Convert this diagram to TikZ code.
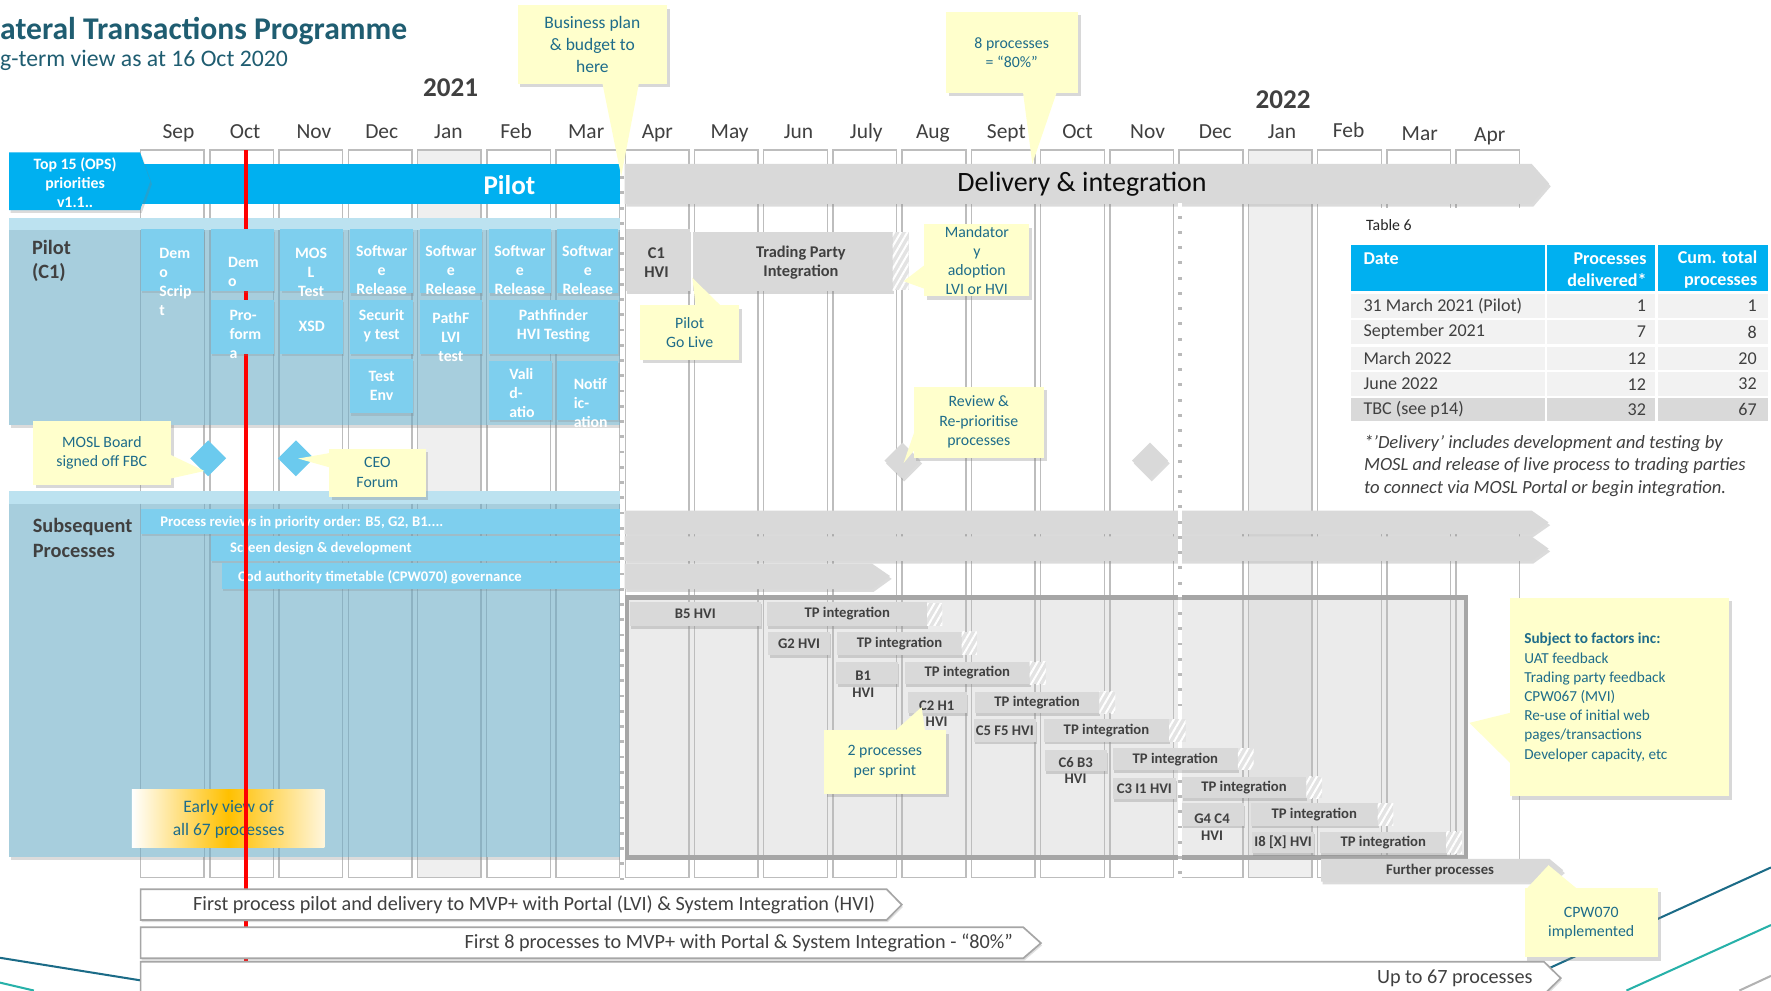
\documentclass[tikz,border=0pt]{standalone}
\usepackage{fontspec}
\setmainfont{Carlito}
\usetikzlibrary{shadows,patterns.meta,calc,shapes.geometric}
\definecolor{bblue}{HTML}{00B0F0}
\definecolor{tblue}{HTML}{7ECFEE}
\definecolor{secblue}{HTML}{A7CEDD}
\definecolor{sectop}{HTML}{BCE2F0}
\definecolor{secline}{HTML}{8DB2C2}
\definecolor{gbar}{HTML}{D9D9D9}
\definecolor{dtext}{HTML}{404040}
\definecolor{calltxt}{HTML}{1E6C8A}
\definecolor{cyel}{HTML}{FFFFCC}
\definecolor{titlec}{HTML}{1F5D71}
\definecolor{colline}{HTML}{BDBDBD}
\definecolor{frameg}{HTML}{A6A6A6}
\definecolor{janfill}{HTML}{EFEFEF}
\definecolor{dteal}{HTML}{1B6B87}
\definecolor{lteal}{HTML}{27B1A9}
\definecolor{rowg}{HTML}{F2F2F2}
\definecolor{rowd}{HTML}{D9D9D9}
\definecolor{eorange}{HTML}{FFC000}
\definecolor{elight}{HTML}{FFF6DC}
\newcommand\fs[2]{\fontsize{#1pt}{#2pt}\selectfont}
\newcommand\rbox[7]{\node[#1, anchor=north west, inner sep=0pt, outer sep=0pt, minimum width={(#5-#3)*1pt}, minimum height={(#6-#4)*1pt}] (#2) at (#3,#4) {#7};}
\newcommand\hatchbox[4]{\fill[gray!22] (#1,#2) rectangle (#3,#4); \fill[pattern={Lines[angle=60,distance=5pt,line width=1.8pt]}, pattern color=white] (#1,#2) rectangle (#3,#4);}
\newcommand\trow[7]{\fill[#4] (1196,#2) rectangle (1367.8,#3); \fill[#4] (1369.6,#2) rectangle (1465.6,#3); \fill[#4] (1467.8,#2) rectangle (1565,#3);
\node[tcell,anchor=west] (#1d) at (1207,{(#2+#3)/2}) {#5};
\node[tcell,anchor=east] (#1p) at (1457.5,{(#2+#3)/2}) {#6};
\node[tcell,anchor=east] (#1c) at (1555.5,{(#2+#3)/2}) {#7};}
\begin{document}
\begin{tikzpicture}[x=1pt,y=-1pt,
 sh/.style={drop shadow={shadow xshift=1.5pt,shadow yshift=-2.5pt,opacity=0.28}},
 wtxt/.style={inner sep=0pt,align=center,text=white,font=\fs{14}{16.8}\bfseries},
 ptxt/.style={inner sep=0pt,align=center,text=dtext,font=\fs{13}{14.5}\bfseries},
 cbox/.style={fill=cyel,inner sep=0pt,align=center,text=calltxt,font=\fs{14}{17},drop shadow={shadow xshift=2.5pt,shadow yshift=-3pt,opacity=0.3}},
 tbx/.style={fill=tblue,drop shadow={shadow xshift=1pt,shadow yshift=-2pt,opacity=0.22}},
 pbx/.style={fill=gbar,text=dtext,font=\fs{13}{14.5}\bfseries,drop shadow={shadow xshift=1pt,shadow yshift=-2.5pt,opacity=0.3}},
 mon/.style={inner sep=0pt,anchor=base,text=dtext,font=\fs{19}{22}},
 tcell/.style={inner sep=0pt,text=dtext,font=\fs{16}{19}},
 arrowbox/.style={fill=white,draw=frameg,line width=1.5,drop shadow={shadow xshift=1pt,shadow yshift=-2pt,opacity=0.25}},
 btxt/.style={inner sep=0pt,text=dtext,font=\fs{17.9}{20}},
]
\useasboundingbox (0,0) rectangle (1568,877);
\fill[white] (0,0) rectangle (1568,877);

% decorative lines
\draw[dteal, line width=1.8] (0,848) -- (124.5,868);
\draw[lteal, line width=1.8] (0,870) -- (30,877);
\draw[dteal, line width=1.8] (1372,857) -- (1568,768);
\draw[lteal, line width=1.8] (1440,877) -- (1568,819);
\draw[gray!60, line width=1.8] (1540,877) -- (1568,864);

% month columns
\foreach \i in {0,...,19}{
 \pgfmathsetmacro\xl{124.5+61.3*\i}
 \pgfmathsetmacro\xr{\xl+56.3}
 \ifnum\i=4 \def\cf{janfill}\else\ifnum\i=16 \def\cf{janfill}\else\def\cf{white}\fi\fi
 \fill[\cf] (\xl,133) rectangle (\xr,777);
}
\fill[gray!16] (553,529) rectangle (1298,759);
\fill[gray!23] (1105.7,529) rectangle (1162,759);
\foreach \i in {0,...,19}{
 \pgfmathsetmacro\xl{124.5+61.3*\i}
 \pgfmathsetmacro\xr{\xl+56.3}
 \draw[colline, line width=1.3] (\xl,133) rectangle (\xr,777);
}
\draw[frameg, line width=4] (555,529) rectangle (1298,759);

% blue sections
\fill[secblue, sh] (8,193) rectangle (549,376);
\fill[sectop] (8,193) rectangle (549,204);
\fill[secblue, sh] (8,435) rectangle (549,758.5);
\fill[sectop] (8,435) rectangle (549,446);
\foreach \i in {0,...,6}{
 \pgfmathsetmacro\xl{124.5+61.3*\i}
 \pgfmathsetmacro\xr{\xl+56.3}
 \draw[secline, line width=1.2] (\xl,204) -- (\xl,376) (\xr,204) -- (\xr,376) (\xl,446) -- (\xl,758.5) (\xr,446) -- (\xr,758.5);
}
\node[inner sep=0pt, anchor=west, align=left, text=dtext, font=\fs{18}{22}\bfseries] (pilotlbl) at (28.2,231) {Pilot\\(C1)};
\node[inner sep=0pt, anchor=west, align=left, text=dtext, font=\fs{18}{22.2}\bfseries] (subslbl) at (28.9,476) {Subsequent\\Processes};

% top bars
\fill[bblue] (124,145) rectangle (551,180.5);
\node[inner sep=0pt, text=white, font=\fs{24}{26}\bfseries] (pilottxt) at (451,164) {Pilot};
\fill[bblue, sh] (8,135) -- (124,135) -- (133,160.5) -- (124,186) -- (8,186) -- cycle;
\node[wtxt, font=\fs{14}{17}\bfseries] (top15) at (66.5,161.5) {Top 15 (OPS)\\priorities\\v1.1..};
\fill[gbar, sh] (553,145) -- (1356,145) -- (1371.5,162.5) -- (1356,180.5) -- (553,180.5) -- cycle;
\node[inner sep=0pt, text=black!95, font=\fs{24.8}{26}] (deliv) at (958,163) {Delivery \& integration};

% table panel
\fill[white] (1196,184.5) rectangle (1568,454.5);
\node[inner sep=0pt, anchor=west, text=black!85, font=\fs{14}{16}] (tab6) at (1209.4,199.2) {Table 6};
\fill[bblue] (1196,217) rectangle (1367.8,257.7);
\fill[bblue] (1369.6,217) rectangle (1465.6,257.7);
\fill[bblue] (1467.8,217) rectangle (1565,257.7);
\node[inner sep=0pt, anchor=west, text=white, font=\fs{16}{20}\bfseries] (hdate) at (1207,228.7) {Date};
\node[inner sep=0pt, anchor=east, align=right, text=white, font=\fs{16}{20}\bfseries] (hproc) at (1458,238.8) {Processes\\delivered*};
\node[inner sep=0pt, anchor=east, align=right, text=white, font=\fs{16}{20}\bfseries] (hcum) at (1556,238.8) {Cum. total\\processes};
\trow{ra}{260.6}{281.3}{rowg}{31 March 2021 (Pilot)}{1}{1}
\trow{rb}{283.3}{304.6}{rowg}{September 2021}{7}{8}
\trow{rc}{307}{327.6}{rowg}{March 2022}{12}{20}
\trow{rd}{329.7}{350.6}{rowg}{June 2022}{12}{32}
\trow{re}{352.7}{372.5}{rowd}{TBC (see p14)}{32}{67}
\node[inner sep=0pt, anchor=west, text=dtext, font=\fs{16.5}{20}\itshape] (fn1) at (1207.5,392.5) {*’Delivery’ includes development and testing by};
\node[inner sep=0pt, anchor=west, text=dtext, font=\fs{16.5}{20}\itshape] (fn2) at (1207.5,412.3) {MOSL and release of live process to trading parties};
\node[inner sep=0pt, anchor=west, text=dtext, font=\fs{16.5}{20}\itshape] (fn3) at (1207.5,432.4) {to connect via MOSL Portal or begin integration.};

% subsequent bars
\fill[gbar, sh] (553,452) -- (1356,452) -- (1371,462.5) -- (1356,473) -- (553,473) -- cycle;
\fill[gbar, sh] (553,475) -- (1356,475) -- (1371,485.7) -- (1356,496.5) -- (553,496.5) -- cycle;
\fill[gbar, sh] (553,499) -- (772,499) -- (788,510) -- (772,521.5) -- (553,521.5) -- cycle;
\rbox{tbx}{bar1}{124.7}{451}{551}{472.8}{}
\rbox{tbx}{bar2}{186.8}{474.6}{551}{496.4}{}
\rbox{tbx}{bar3}{196.2}{498.8}{551}{521.5}{}
\node[inner sep=0pt, anchor=west, text=white, font=\fs{13}{15}\bfseries] (bar1t) at (141.7,462.3) {Process reviews in priority order: B5, G2, B1....};
\node[inner sep=0pt, anchor=west, text=white, font=\fs{13}{15}\bfseries] (bar2t) at (203.5,485.5) {Screen design \& development};
\node[inner sep=0pt, anchor=west, text=white, font=\fs{13}{15}\bfseries] (bar3t) at (210.7,511.5) {Cod authority timetable (CPW070) governance};

% early view box
\shade[left color=white, right color=elight, middle color=eorange] (116.7,699.4) rectangle (287.3,750.2);
\node[inner sep=0pt, align=center, text=calltxt, font=\fs{15.5}{19.7}] (early) at (202.4,725.5) {Early view of\\all 67 processes};

% red line
\draw[red, line width=4] (217.6,133) -- (217.6,851);

% dashed lines
\draw[gray!55, line width=3.5] (550.5,145) -- (550.5,780);
\draw[white, line width=3.5, dash pattern=on 11pt off 2.5pt] (550.5,145) -- (550.5,780);
\draw[gray!55, line width=3.5] (1044.5,180) -- (1044.5,780);
\draw[white, line width=3.5, dash pattern=on 11pt off 2.5pt] (1044.5,180) -- (1044.5,780);

% pilot task boxes
\rbox{tbx}{demos}{124.7}{203}{180.7}{257.4}{}
\rbox{tbx}{demo}{186.8}{203}{242.9}{257.4}{}
\rbox{tbx}{moslt}{248.3}{203}{303.6}{257.4}{}
\rbox{tbx}{swa}{310}{203}{365.7}{259.8}{}
\rbox{tbx}{swb}{372}{203}{426.5}{259.8}{}
\rbox{tbx}{swc}{432.6}{203}{488}{259.8}{}
\rbox{tbx}{swd}{493.3}{203}{547.5}{259.8}{}
\rbox{tbx}{profo}{186.8}{265.6}{242.9}{313.3}{}
\rbox{tbx}{xsd}{248.3}{265.6}{303.6}{313.3}{}
\rbox{tbx}{secu}{310}{265.6}{365.7}{313.3}{}
\rbox{tbx}{pathf}{372}{265.6}{426.5}{313.3}{}
\rbox{tbx}{pathh}{432.6}{265.6}{547.5}{313.3}{}
\rbox{tbx}{tenv}{310}{318}{365.7}{365.9}{}
\rbox{tbx}{vali}{432.6}{319.3}{488.6}{371.8}{}
\rbox{tbx}{notif}{493.3}{319.3}{547.5}{371.8}{}
\node[wtxt, align=left, anchor=west] (demost) at (141,249.6) {Dem\\o\\Scrip\\t};
\node[wtxt, align=left, anchor=west] (demot) at (201.7,240.9) {Dem\\o};
\node[wtxt] (mosltt) at (275.4,241.2) {MOS\\L\\Test};
\node[wtxt] (swat) at (337.9,239.5) {Softwar\\e\\Release};
\node[wtxt] (swbt) at (399.2,239.5) {Softwar\\e\\Release};
\node[wtxt] (swct) at (460.3,239.5) {Softwar\\e\\Release};
\node[wtxt] (swdt) at (520.4,239.5) {Softwar\\e\\Release};
\node[wtxt, align=left, anchor=west] (profot) at (203,296) {Pro-\\form\\a};
\node[wtxt] (xsdt) at (276,288.6) {XSD};
\node[wtxt] (secut) at (337.9,288.3) {Securit\\y test};
\node[wtxt] (pathft) at (399.2,298.2) {PathF\\LVI\\test};
\node[wtxt] (pathht) at (490,288.2) {Pathfinder\\HVI Testing};
\node[wtxt] (tenvt) at (337.9,341.3) {Test\\Env};
\node[wtxt, align=left, anchor=west] (valit) at (450.7,356.3) {Vali\\d-\\atio\\n};
\node[wtxt, align=left, anchor=west] (notift) at (507.8,357) {Notif\\ic-\\ation};

% C1 HVI and trading party
\rbox{pbx}{c1hvi}{554.5}{203}{610.8}{257.4}{}
\node[inner sep=0pt, align=center, text=dtext, font=\fs{14.5}{17}\bfseries] (c1t) at (581.2,232.7) {C1\\HVI};
\rbox{pbx}{tpi}{613.8}{205}{790.4}{258}{}
\node[inner sep=0pt, align=center, text=dtext, font=\fs{14.5}{17}\bfseries] (tpit) at (709.1,232.7) {Trading Party\\Integration};
\hatchbox{790.4}{205.6}{804.4}{257}

% diamonds
\node[diamond, aspect=1, minimum width=32pt, minimum height=32pt, inner sep=0pt, fill=tblue!85!bblue] (dmosl) at (184.3,405.8) {};
\node[diamond, aspect=1, minimum width=32pt, minimum height=32pt, inner sep=0pt, fill=tblue!85!bblue] (dceo) at (262,405.8) {};
\node[diamond, aspect=1, minimum width=32pt, minimum height=32pt, inner sep=0pt, fill=gbar, sh] (drev) at (799,407.8) {};
\node[diamond, aspect=1, minimum width=32pt, minimum height=32pt, inner sep=0pt, fill=gbar, sh] (dnov) at (1018.2,407.8) {};

% process items
\rbox{pbx}{b5}{557.6}{532.7}{673.5}{554.2}{B5 HVI}
\rbox{pbx}{tp1}{679.3}{533}{820.9}{554.2}{TP integration}
\hatchbox{820.9}{534}{834.4}{554.2}
\rbox{pbx}{g2}{680.3}{559.2}{734.5}{579.9}{G2 HVI}
\rbox{pbx}{tp2}{741.3}{559.2}{851.4}{579.9}{TP integration}
\hatchbox{851.4}{559.2}{864.9}{579.9}
\rbox{pbx}{b1}{740.6}{585.8}{794.8}{605.6}{}
\node[ptxt] (b1t) at (764.3,605.8) {B1\\HVI};
\rbox{pbx}{tp3}{801.2}{585.8}{911.7}{605.6}{TP integration}
\hatchbox{911.7}{585.8}{925.9}{605.6}
\rbox{pbx}{c2}{803.9}{612.4}{856.4}{631.5}{}
\node[ptxt] (c2t) at (829.3,632) {C2 H1\\HVI};
\rbox{pbx}{tp4}{863.2}{612.4}{973.3}{631.5}{TP integration}
\hatchbox{973.3}{612.4}{987.6}{631.5}
\rbox{pbx}{c5}{862.5}{636.9}{916.8}{656.6}{C5 F5 HVI}
\rbox{pbx}{tp5}{924.2}{636.9}{1035}{656.6}{TP integration}
\hatchbox{1035}{636.9}{1049.6}{656.6}
\rbox{pbx}{c6}{924.9}{664}{980.1}{682.6}{}
\node[ptxt] (c6t) at (952.3,682.2) {C6 B3\\HVI};
\rbox{pbx}{tp6}{985.2}{662.5}{1096}{681.7}{TP integration}
\hatchbox{1096}{662.5}{1110}{681.7}
\rbox{pbx}{c3}{985.2}{689.1}{1041.1}{707.7}{C3 I1 HVI}
\rbox{pbx}{tp7}{1046.1}{687.6}{1156.6}{706.8}{TP integration}
\hatchbox{1156.6}{687.6}{1170.6}{706.8}
\rbox{pbx}{g4}{1046.1}{711.2}{1101.5}{731}{}
\node[ptxt] (g4t) at (1073.1,732.2) {G4 C4\\HVI};
\rbox{pbx}{tp8}{1107.5}{711.2}{1219.7}{731}{TP integration}
\hatchbox{1219.7}{711.2}{1233.7}{731}
\rbox{pbx}{i8}{1108.5}{736.3}{1163.6}{755.5}{I8 [X] HVI}
\rbox{pbx}{tp9}{1168.9}{736.3}{1280.4}{755.5}{TP integration}
\hatchbox{1280.4}{736.3}{1294.4}{755.5}
\fill[gbar, sh] (1169.6,760.5) -- (1372,760.5) -- (1384,770.5) -- (1372,780.5) -- (1169.6,780.5) -- cycle;
\node[ptxt] (further) at (1275,771) {Further processes};

% callouts
\node[cbox, anchor=north west, minimum width=132.5pt, minimum height=69.4pt, font=\fs{15.5}{19.2}] (cbiz) at (458,4.4) {Business plan\\\& budget to\\here};
\fill[cyel] (533,72) -- (566,72) -- (550,156) -- cycle;
\node[cbox, anchor=north west, minimum width=116.9pt, minimum height=71.7pt, font=\fs{14}{17}] (c80) at (837.1,10.3) {8 processes\\= “80\%”};
\fill[cyel] (905.6,80.5) -- (936,80.5) -- (914,145) -- cycle;
\node[cbox, anchor=north west, minimum width=122.1pt, minimum height=56.6pt, font=\fs{14}{16.8}] (cmosl) at (28.9,372.7) {MOSL Board\\signed off FBC};
\fill[cyel] (149.5,402) -- (149.5,424) -- (181,417) -- cycle;
\node[cbox, anchor=north west, minimum width=85.3pt, minimum height=42.8pt, font=\fs{14}{17.7}] (cceo) at (291.3,396.9) {CEO\\Forum};
\fill[cyel] (292.5,401) -- (292.5,414) -- (264,406) -- cycle;
\node[cbox, anchor=north west, minimum width=87.2pt, minimum height=48.1pt, font=\fs{14}{16.7}] (cgolive) at (566.8,270) {Pilot\\Go Live};
\fill[cyel] (616,271.5) -- (639,271.5) -- (613,246) -- cycle;
\node[cbox, anchor=north west, minimum width=92.7pt, minimum height=63.7pt, font=\fs{14}{16.8}] (cmand) at (818.3,198.3) {Mandator\\y\\adoption\\LVI or HVI};
\fill[cyel] (819.5,234) -- (819.5,256) -- (800,249) -- cycle;
\node[cbox, anchor=north west, minimum width=115.6pt, minimum height=62.7pt, font=\fs{14}{17.3}] (crev) at (808.6,342.3) {Review \&\\Re-prioritise\\processes};
\fill[cyel] (810,381) -- (810,398) -- (800,410) -- cycle;
\node[cbox, anchor=north west, minimum width=107.7pt, minimum height=56.1pt, font=\fs{14}{17.7}] (csprint) at (729.4,646.3) {2 processes\\per sprint};
\fill[cyel] (792,647.5) -- (819,647.5) -- (816,626) -- cycle;
\node[cbox, anchor=north west, minimum width=194.3pt, minimum height=175.6pt] (csubj) at (1336.4,529.1) {};
\fill[cyel] (1337.5,631) -- (1337.5,676) -- (1301,640) -- cycle;
\node[inner sep=0pt, anchor=west, align=left, text=calltxt, font=\fs{13.5}{17}] (csubjt) at (1349.4,617.5) {\textbf{Subject to factors inc:}\\UAT feedback\\Trading party feedback\\CPW067 (MVI)\\Re-use of initial web\\pages/transactions\\Developer capacity, etc};
\node[cbox, anchor=north west, minimum width=118pt, minimum height=61.1pt, font=\fs{14}{16.8}] (ccpw) at (1349.6,786.4) {CPW070\\implemented};
\fill[cyel] (1351,787.5) -- (1397,787.5) -- (1371,766) -- cycle;

% bottom arrows
\draw[arrowbox] (124.5,787.3) -- (785,787.3) -- (798.4,801) -- (785,814.5) -- (124.5,814.5) -- cycle;
\node[btxt, anchor=east] (arr1) at (775,801) {First process pilot and delivery to MVP+ with Portal (LVI) \& System Integration (HVI)};
\draw[arrowbox] (124.5,821) -- (906,821) -- (921.6,835) -- (906,848.4) -- (124.5,848.4) -- cycle;
\node[btxt, anchor=east] (arr2) at (897,835) {First 8 processes to MVP+ with Portal \& System Integration - “80\%”};
\draw[arrowbox] (124.5,851.5) -- (1367,851.5) -- (1381.8,866) -- (1367,880.5) -- (124.5,880.5) -- cycle;
\node[btxt, anchor=east] (arr3) at (1357,866) {Up to 67 processes};

% titles and months
\node[anchor=base west, inner sep=0pt, text=titlec, font=\fs{28}{30}\bfseries] (title) at (0,35.4) {ateral Transactions Programme};
\node[anchor=base west, inner sep=0pt, text=titlec, font=\fs{21}{24}] (subtitle) at (0,59) {g-term view as at 16 Oct 2020};
\node[anchor=base, inner sep=0pt, text=dtext, font=\fs{24}{26}\bfseries] (y2021) at (399,85.6) {2021};
\node[anchor=base, inner sep=0pt, text=dtext, font=\fs{24}{26}\bfseries] (y2022) at (1136,95.9) {2022};
\foreach \mx/\mn/\my [count=\k] in {158/Sep/122.5, 217/Oct/122.5, 278/Nov/122.5, 338/Dec/122.5, 397/Jan/122.5, 457/Feb/122.5, 519/Mar/122.5, 582/Apr/122.5, 646/May/122.5, 707/Jun/122.5, 767/July/122.5, 826/Aug/122.5, 891/Sept/122.5, 954/Oct/122.5, 1016/Nov/122.5, 1076/Dec/123, 1135/Jan/123, 1194/Feb/121.5, 1257/Mar/124, 1319/Apr/125}
 \node[mon] (m\k) at (\mx,\my) {\mn};
\end{tikzpicture}
\end{document}
